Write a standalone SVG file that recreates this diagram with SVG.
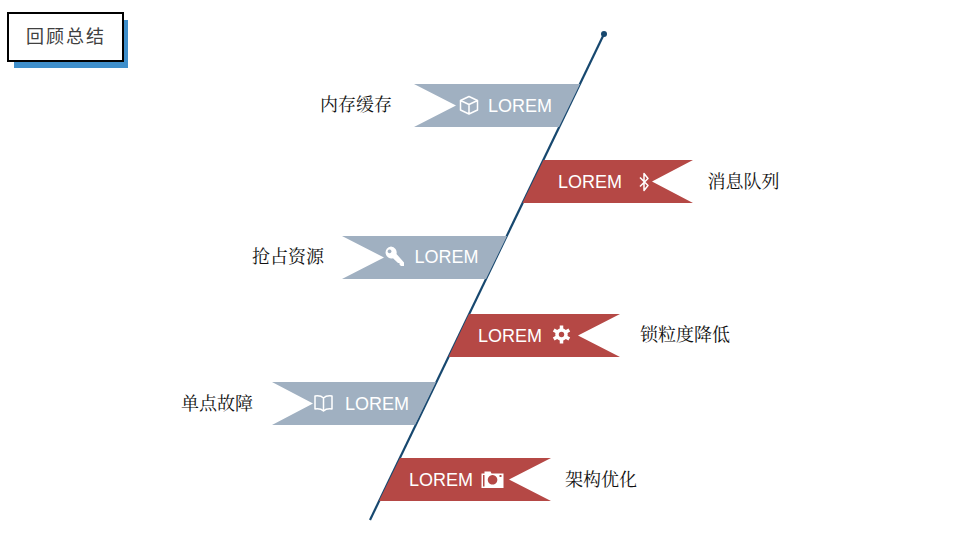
<svg xmlns="http://www.w3.org/2000/svg" width="960" height="540" viewBox="0 0 960 540">
<style>
.g{fill:#a0b0c1}.r{fill:#b54845}
.t{font:18px "Liberation Sans",sans-serif;fill:#fff}
.l{font:18px "Noto Serif CJK SC","Liberation Serif",serif;fill:#111}
.i{fill:none;stroke:#fff;stroke-width:1.5;stroke-linejoin:round}
.f{fill:#fff}
</style>
<rect width="960" height="540" fill="#fff"/>
<g id="title">
<rect x="14" y="20" width="114" height="48" fill="#3f8fcb"/>
<rect x="8" y="13" width="115" height="48" fill="#fff" stroke="#000" stroke-width="2"/>
<text x="26" y="42.500" style="font:18px 'Noto Sans CJK SC',sans-serif;letter-spacing:2px;fill:#404040">回顾总结</text>
</g>
<g id="connectors">
<line x1="604" y1="34" x2="370" y2="520" stroke="#17486f" stroke-width="2.200"/>
<circle cx="604" cy="34" r="3" fill="#17486f"/>
</g>
<g id="node1">
<polygon class="g" points="414,84 580,84 559,127 414,127 456,105.500"/>
<path class="i" d="M469 96.500l8.500 4v9.500l-8.500 4-8.500-4v-9.500zM460.500 100.500l8.500 4 8.500-4M469 104.500v9.500"/>
<text class="t" x="488" y="112">LOREM</text>
<text class="l" x="320" y="111">内存缓存</text>
</g>
<g id="node2">
<polygon class="r" points="543.500,160 693,160 652,181.500 693,203 522.500,203"/>
<path class="i" d="M640 177.500l8 8-4 5v-17l4 5-8 8"/>
<text class="t" x="558" y="188">LOREM</text>
<text class="l" x="707.500" y="188">消息队列</text>
</g>
<g id="node3">
<polygon class="g" points="342,236 507,236 486,279 342,279 384,257.500"/>
<path class="f" fill-rule="evenodd" d="M391 246.500a6 6 0 0 1 5.500 7.500l7.500 8.500v3.500h-3l-1.500-1.500v-1.500h-1.500l-5-4.700a6 6 0 1 1-2-11.800zM389.500 249.500a1.900 1.900 0 1 0 .1 0z"/>
<text class="t" x="414.500" y="263">LOREM</text>
<text class="l" x="252" y="263">抢占资源</text>
</g>
<g id="node4">
<polygon class="r" points="469,314 620,314 578,335.500 620,357 448.500,357"/>
<path stroke="#fff" stroke-width="3.500" d="M561.500 325.500v18M553.700 330l15.600 9M553.700 339l15.600-9"/>
<circle cx="561.500" cy="334.500" r="4.500" fill="none" stroke="#fff" stroke-width="3.500"/>
<circle cx="561.500" cy="334.500" r="2.700" fill="#b54845"/>
<text class="t" x="478" y="342">LOREM</text>
<text class="l" x="640" y="341">锁粒度降低</text>
</g>
<g id="node5">
<polygon class="g" points="272,382 436,382 415,425 272,425 313,403.500"/>
<path class="i" d="M323.500 398c-2-2-5-2.500-8.500-2v13c3.500-.5 6.500 0 8.500 2 2-2 5-2.500 8.500-2v-13c-3.500-.5-6.500 0-8.500 2zv13"/>
<text class="t" x="345" y="410">LOREM</text>
<text class="l" x="181" y="410">单点故障</text>
</g>
<g id="node6">
<polygon class="r" points="400,458 551,458 509,479.500 551,501 379,501"/>
<path class="f" fill-rule="evenodd" d="M481.500 473.500h3v-2h6l1 2h12v14.500h-22zM483 475v11.500h1.500v-11.500zM492.500 475a4.800 4.800 0 1 0 .1 0zM499.500 475v2h2v-2z"/>
<text class="t" x="409" y="486">LOREM</text>
<text class="l" x="565" y="486">架构优化</text>
</g>
</svg>
